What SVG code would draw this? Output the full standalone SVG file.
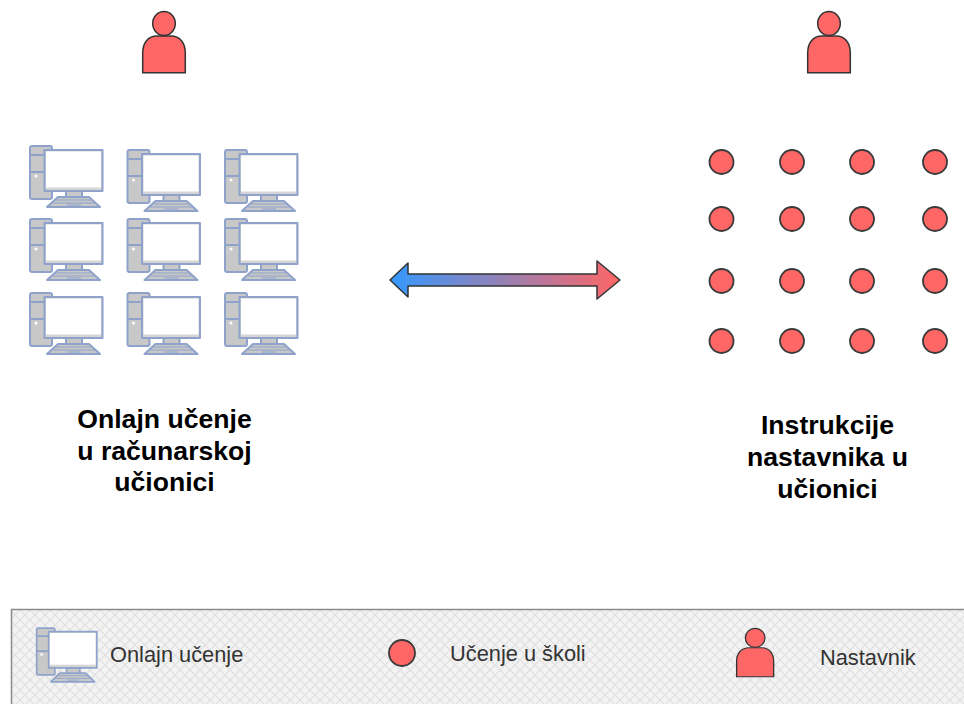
<svg xmlns="http://www.w3.org/2000/svg" width="964" height="704" viewBox="0 0 964 704">
<style>
.t{font-family:"Liberation Sans",Arial,sans-serif;font-weight:bold;font-size:26.600px;fill:#000;text-anchor:middle}
.l{font-family:"Liberation Sans",Arial,sans-serif;font-size:21.800px;fill:#333}
.d{fill:#ff6666;stroke:#3a3a3a;stroke-width:1.800}
.p{fill:#ff6666;stroke:#333;stroke-width:1.500}
.c{stroke:#8ea2cb;stroke-width:2;stroke-linejoin:round}
</style>
<defs>
<linearGradient id="g" x1="390" y1="0" x2="620" y2="0" gradientUnits="userSpaceOnUse"><stop offset="0" stop-color="#3399ff"/><stop offset="1" stop-color="#ff6666"/></linearGradient>
<pattern id="h" width="10" height="10" patternUnits="userSpaceOnUse"><rect width="10" height="10" fill="#f3f3f3"/><path d="M0 0L10 10M10 0L0 10" stroke="#e0e0e0" stroke-width="1.200"/></pattern>
<g id="pc">
<rect class="c" x="1" y="1" width="22" height="53" rx="2" fill="#c8c8c8"/>
<path class="c" d="M1 10H23M1 27H23" fill="none"/>
<circle cx="7" cy="31" r="1.500" fill="#fff"/>
<rect class="c" x="37" y="46" width="16" height="7" fill="#c8c8c8"/>
<path class="c" d="M29 52H60L71 62H18Z" fill="#c8c8c8"/>
<path d="M27 55H62M24 58H66M38 60H52" stroke="#8ea2cb" stroke-width="1" fill="none"/>
<rect class="c" x="15.500" y="5" width="58" height="41" fill="#d5d5d5"/>
<rect x="17" y="6.500" width="55" height="36" fill="#fff"/>
</g>
<g id="person">
<path class="p" d="M0.700 61.700V42C0.700 32 6 25 15 25H29C38 25 43.300 32 43.300 42V61.700Z"/>
<ellipse class="p" cx="22" cy="12.500" rx="11.300" ry="12"/>
</g>
</defs>
<g id="legend">
<rect x="11.500" y="609.500" width="970" height="110" fill="url(#h)" stroke="#8a8a8a" stroke-width="1.500"/>
</g>
<g id="teacher-left"><use href="#person" x="142" y="11"/></g>
<g id="teacher-right"><use href="#person" x="807" y="11"/></g>
<g id="computers">
<use href="#pc" x="29" y="145"/><use href="#pc" x="126.500" y="149"/><use href="#pc" x="224" y="149"/>
<use href="#pc" x="29" y="218"/><use href="#pc" x="126.500" y="218"/><use href="#pc" x="224" y="218"/>
<use href="#pc" x="29" y="292"/><use href="#pc" x="126.500" y="292"/><use href="#pc" x="224" y="292"/>
</g>
<g id="students">
<circle class="d" cx="721.500" cy="162" r="12"/><circle class="d" cx="792" cy="162" r="12"/><circle class="d" cx="862" cy="162" r="12"/><circle class="d" cx="935" cy="162" r="12"/>
<circle class="d" cx="721.500" cy="219" r="12"/><circle class="d" cx="792" cy="219" r="12"/><circle class="d" cx="862" cy="219" r="12"/><circle class="d" cx="935" cy="219" r="12"/>
<circle class="d" cx="721.500" cy="281" r="12"/><circle class="d" cx="792" cy="281" r="12"/><circle class="d" cx="862" cy="281" r="12"/><circle class="d" cx="935" cy="281" r="12"/>
<circle class="d" cx="721.500" cy="341" r="12"/><circle class="d" cx="792" cy="341" r="12"/><circle class="d" cx="862" cy="341" r="12"/><circle class="d" cx="935" cy="341" r="12"/>
</g>
<g id="connectors">
<path d="M390 280L408 263V274H597V261L620 280L597 299V286H408V297Z" fill="url(#g)" stroke="#333" stroke-width="1.500" stroke-linejoin="round"/>
</g>
<g id="title-left"><text class="t" x="164.500" y="428">Onlajn učenje</text><text class="t" x="164.500" y="460">u računarskoj</text><text class="t" x="164.500" y="491">učionici</text></g>
<g id="title-right"><text class="t" x="827.500" y="433.500">Instrukcije</text><text class="t" x="827.500" y="466">nastavnika u</text><text class="t" x="827.500" y="497.500">učionici</text></g>
<g id="legend-online"><use href="#pc" transform="translate(35.800 627.300) scale(.83 .88)"/><text class="l" x="110" y="662">Onlajn učenje</text></g>
<g id="legend-school"><circle class="d" cx="402" cy="653" r="13"/><text class="l" x="450" y="661">Učenje u školi</text></g>
<g id="legend-teacher"><use href="#person" transform="translate(736 628) scale(.87 .79)"/><text class="l" x="820" y="664.500">Nastavnik</text></g>
</svg>
